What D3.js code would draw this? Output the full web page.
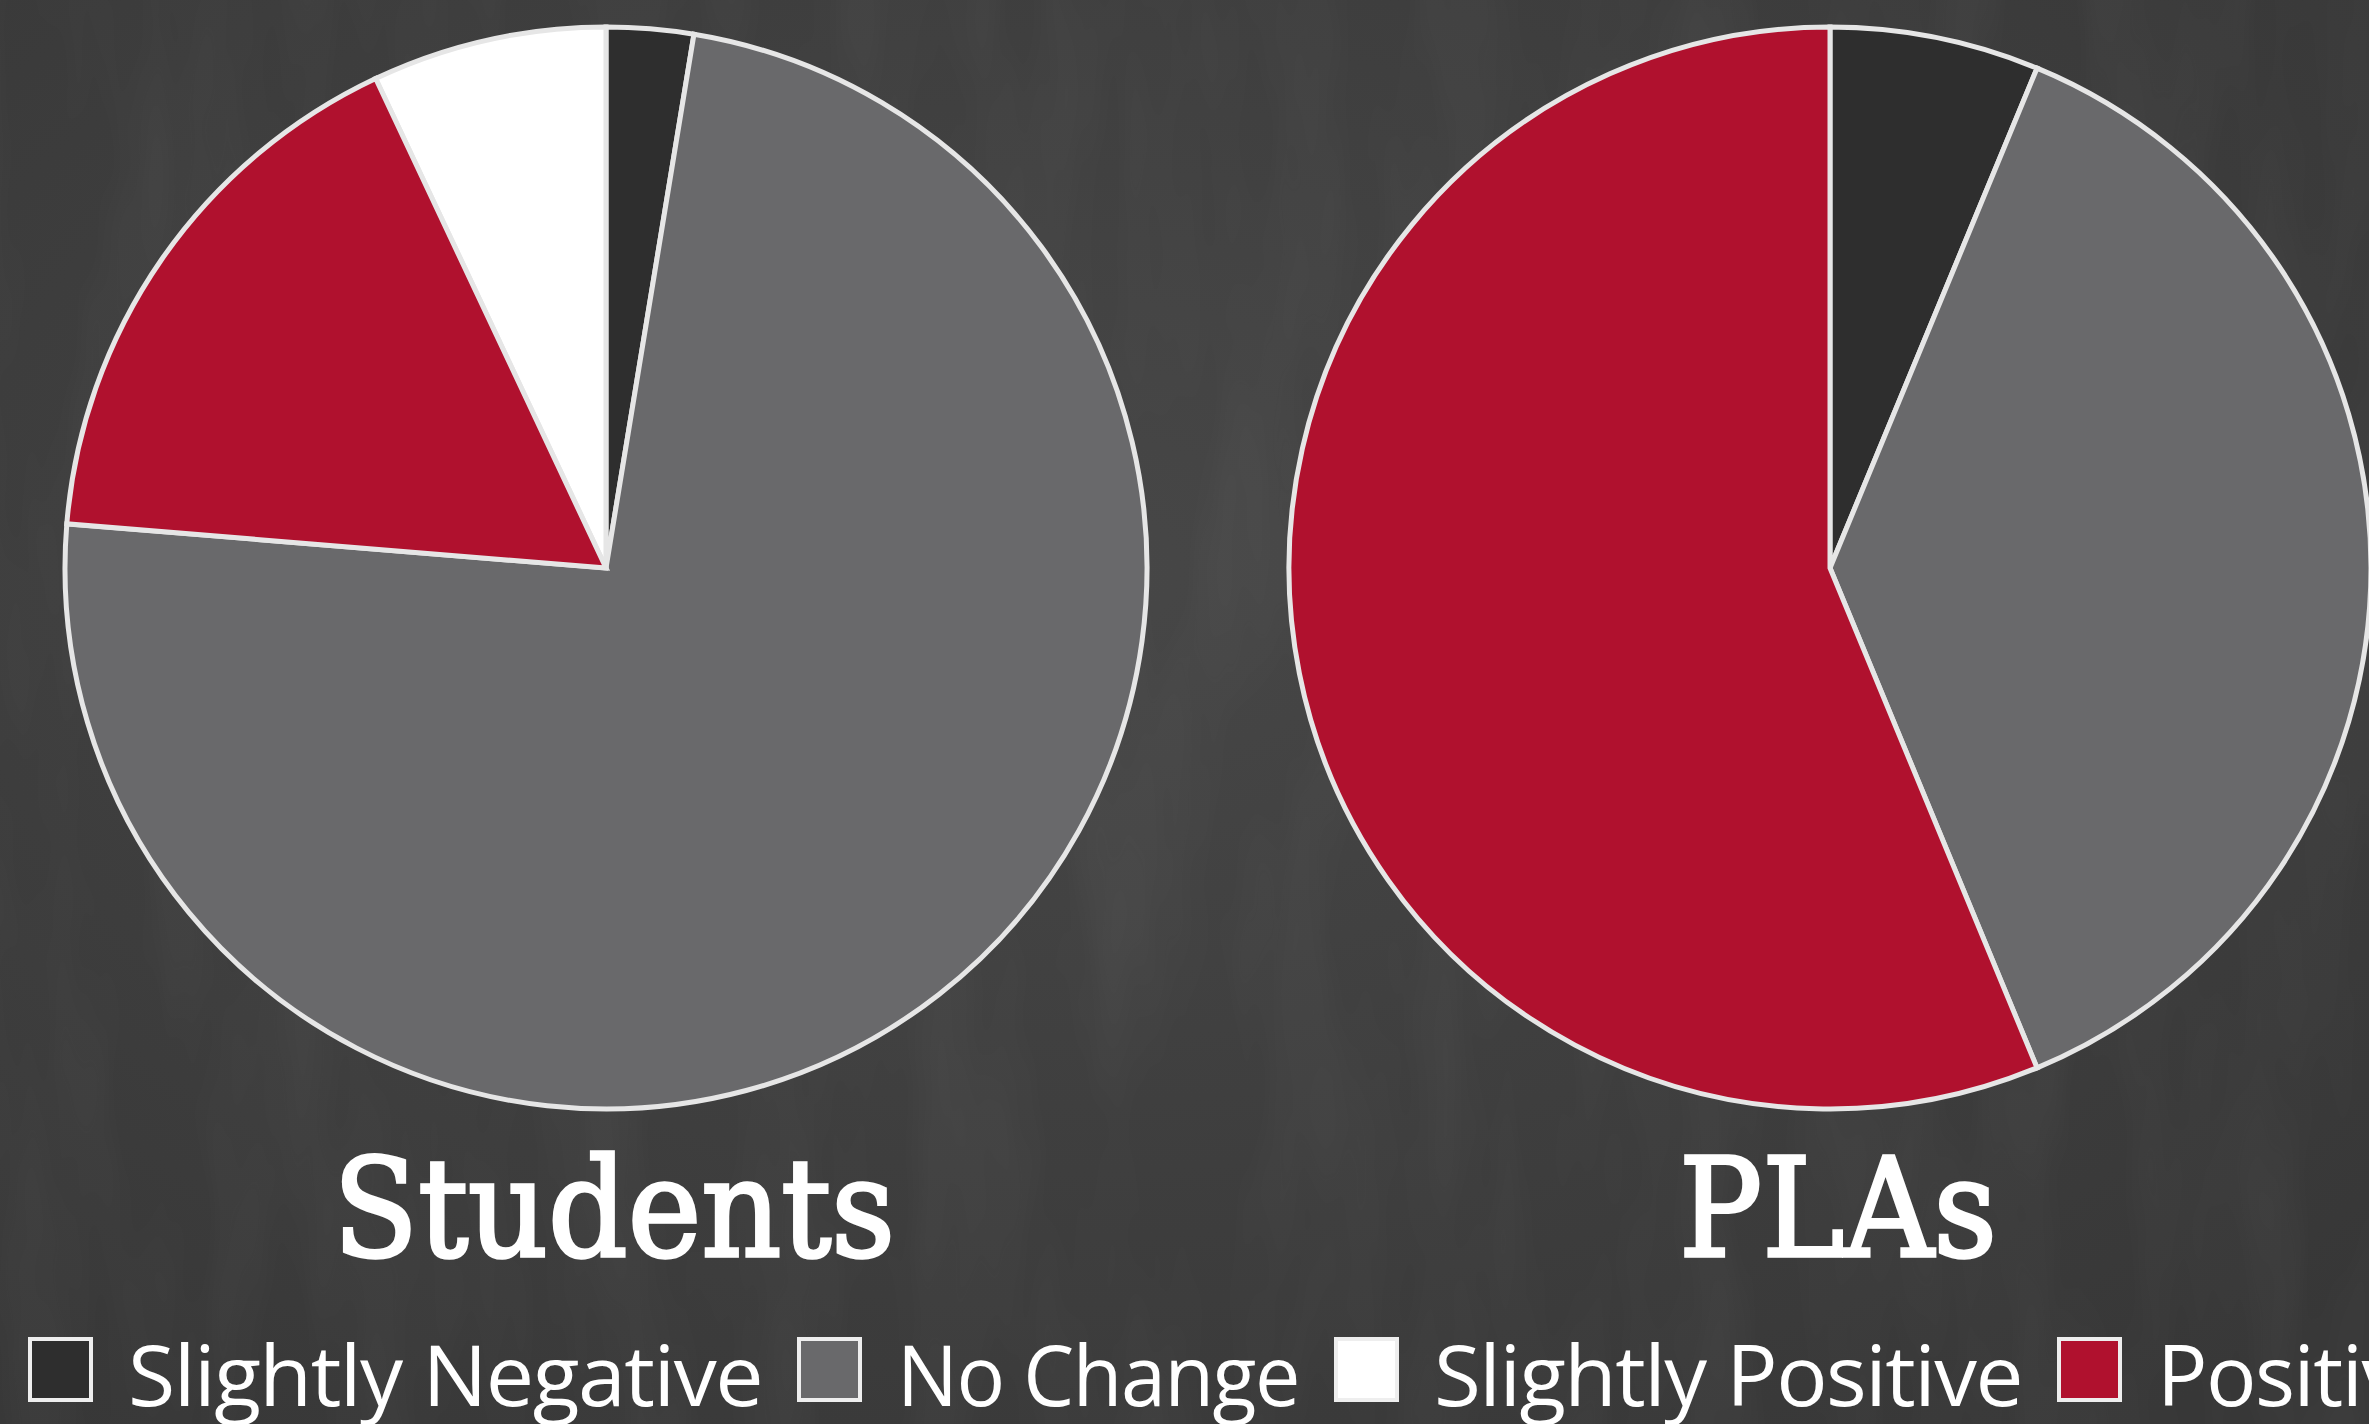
<!DOCTYPE html>
<html>
<head>
<meta charset="utf-8">
<script src="https://cdn.jsdelivr.net/npm/d3@7"></script>
<style>
  html, body { margin: 0; padding: 0; background: #404040; overflow: hidden; }
</style>
</head>
<body>
<div id="chart"></div>
<script>
/* CONSTANTS AND GLOBALS */
const width = 2369,
  height = 1424;

/* DATA */
const categories = ["Slightly Negative", "No Change", "Slightly Positive", "Positive"];
const groups = ["Students", "PLAs"];
const studentValues = [2.6, 73.7, 7.0, 16.7];
const plaValues = [6.25, 37.5, 0, 56.25];
// order the slices run clockwise from 12 o'clock
const sliceOrder = ["Slightly Negative", "No Change", "Positive", "Slightly Positive"];
const colors = ["#2e2e2e", "#69696b", "#ffffff", "#b0112e"];

const seriesByGroup = {
  Students: studentValues,
  PLAs: plaValues
};

// text widths so the fallback fonts sit like the original ones
const titleWidth = { Students: 562, PLAs: 318 };
const labelWidth = { "Slightly Negative": 634, "No Change": 402, "Slightly Positive": 588 };

const svg = d3.select("#chart")
  .append("svg")
  .attr("width", width)
  .attr("height", height);

// chalkboard-ish background
const defs = svg.append("defs");
const grad = defs.append("radialGradient")
  .attr("id", "bg")
  .attr("cx", "45%").attr("cy", "40%").attr("r", "75%");
grad.append("stop").attr("offset", "0%").attr("stop-color", "#474747");
grad.append("stop").attr("offset", "100%").attr("stop-color", "#373737");

const noise = defs.append("filter").attr("id", "chalk")
  .attr("x", 0).attr("y", 0).attr("width", "100%").attr("height", "100%");
noise.append("feTurbulence")
  .attr("type", "fractalNoise")
  .attr("baseFrequency", "0.012 0.003")
  .attr("numOctaves", 3)
  .attr("seed", 4);
noise.append("feColorMatrix")
  .attr("type", "matrix")
  .attr("values", "0 0 0 0 1  0 0 0 0 1  0 0 0 0 1  0 0 0 0.9 -0.3");

svg.append("rect")
  .attr("width", width).attr("height", height)
  .attr("fill", "url(#bg)");
svg.append("rect")
  .attr("width", width).attr("height", height)
  .attr("filter", "url(#chalk)")
  .attr("opacity", 0.07);

/* SCALES */
const xScale = d3.scalePoint()
  .domain(groups)
  .range([606, 1830]);

const colorScale = d3.scaleOrdinal()
  .domain(categories)
  .range(colors);

const radius = 541,
  cy = 568;

const pie = d3.pie()
  .value(d => d.value)
  .sort((a, b) => sliceOrder.indexOf(a.key) - sliceOrder.indexOf(b.key));

const arc = d3.arc()
  .innerRadius(0)
  .outerRadius(radius);

/* PIES */
groups.forEach(g => {
  const rows = categories.map((c, i) => ({ key: c, value: seriesByGroup[g][i] }))
    .filter(d => d.value > 0);

  const pieG = svg.append("g")
    .attr("transform", `translate(${xScale(g)}, ${cy})`);

  pieG.selectAll("path")
    .data(pie(rows))
    .join("path")
    .attr("d", arc)
    .attr("fill", d => colorScale(d.data.key))
    .attr("stroke", "#e6e6e6")
    .attr("stroke-width", 5)
    .attr("stroke-linejoin", "miter");
});

/* GROUP TITLES */
svg.selectAll("text.title")
  .data(groups)
  .join("text")
  .attr("class", "title")
  .attr("x", d => xScale(d) + 8)
  .attr("y", 1256)
  .attr("text-anchor", "middle")
  .attr("font-family", "'DejaVu Serif', serif")
  .attr("font-size", 136)
  .attr("fill", "#ffffff")
  .attr("stroke", "#ffffff")
  .attr("stroke-width", 3.5)
  .attr("textLength", d => titleWidth[d])
  .attr("lengthAdjust", "spacingAndGlyphs")
  .text(d => d);

/* LEGEND */
const legend = svg.append("g").attr("class", "legend");
let cursor = 30;
categories.forEach(c => {
  const item = legend.append("g");
  item.append("rect")
    .attr("x", cursor)
    .attr("y", 1339)
    .attr("width", 61)
    .attr("height", 61)
    .attr("fill", colorScale(c))
    .attr("stroke", "#eeeeee")
    .attr("stroke-width", 4);
  const label = item.append("text")
    .attr("x", cursor + 98)
    .attr("y", 1406)
    .attr("font-family", "'Open Sans', sans-serif")
    .attr("font-size", 84)
    .attr("letter-spacing", -1.5)
    .attr("fill", "#ffffff")
    .text(c);
  if (labelWidth[c]) {
    label.attr("textLength", labelWidth[c]).attr("lengthAdjust", "spacingAndGlyphs");
  }
  const w = labelWidth[c] || label.node().getComputedTextLength();
  cursor += 98 + w + 37;
});
</script>
</body>
</html>
